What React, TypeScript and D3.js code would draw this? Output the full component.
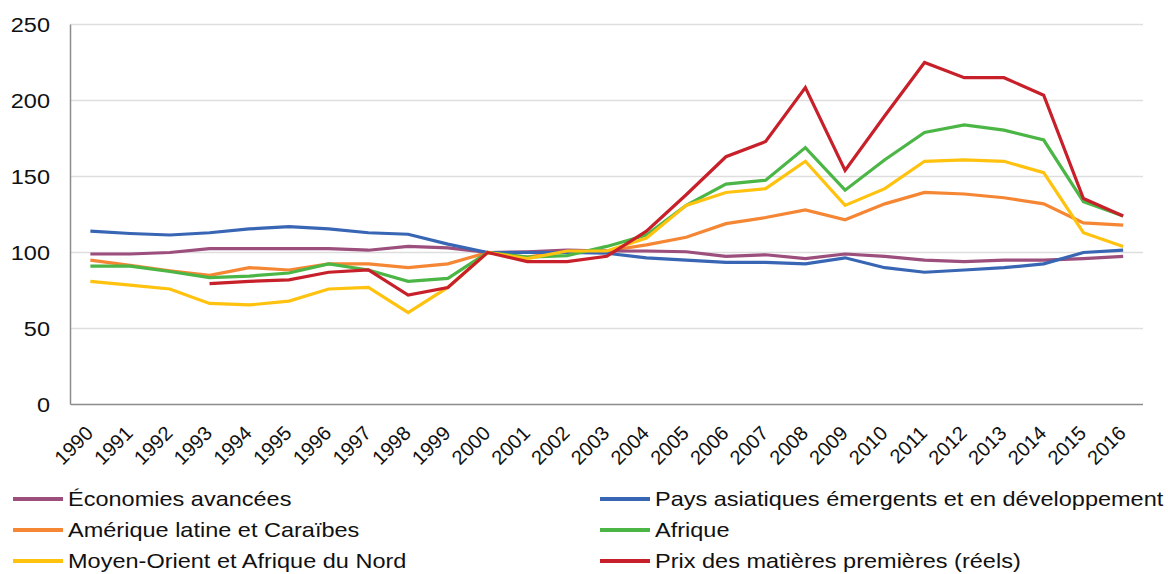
import React from 'react';
import * as d3 from 'd3';

const WIDTH = 1168;
const HEIGHT = 574;
const FONT = '"Liberation Sans", Arial, sans-serif';
// the reference text is a little wider than Liberation Sans
const STRETCH = 1.12;

const years = [
  '1990', '1991', '1992', '1993', '1994', '1995', '1996', '1997', '1998', '1999',
  '2000', '2001', '2002', '2003', '2004', '2005', '2006', '2007', '2008', '2009',
  '2010', '2011', '2012', '2013', '2014', '2015', '2016',
];
const yTicks = [0, 50, 100, 150, 200, 250];

const advanced = [99, 99, 100, 102.5, 102.5, 102.5, 102.5, 101.5, 104, 103, 100, 100.5, 101.5, 101, 101, 100.5, 97.5, 98.5, 96, 99, 97.5, 95, 94, 95, 95, 96, 97.5];
const asia = [114, 112.5, 111.5, 113, 115.5, 117, 115.5, 113, 112, 105.5, 100, 100, 100, 99.5, 96.5, 95, 93.5, 93.5, 92.5, 96.5, 90, 87, 88.5, 90, 92.5, 100, 101.5];
const latam = [95, 91.5, 88, 85, 90, 88.5, 92.5, 92.5, 90, 92.5, 100, 97, 101, 101, 105, 110, 119, 123, 128, 121.5, 132, 139.5, 138.5, 136, 132, 119.5, 118];
const africa = [91, 91, 87.5, 83.5, 84.5, 86.5, 92.5, 88.5, 81, 83, 100, 97, 98, 104, 111.5, 131, 145, 147.5, 169, 141, 161, 179, 184, 180.5, 174, 133.5, 124];
const mena = [81, 78.5, 76, 66.5, 65.5, 68, 76, 77, 60.5, 77, 100, 96, 101, 101, 109.5, 131, 139.5, 142, 160, 131, 142, 160, 161, 160, 152.5, 113, 104];
const commodity = [null, null, null, 79.5, 81, 82, 87, 88.5, 72, 77, 100, 94, 94, 97.5, 114, 138, 163, 173, 208.5, 154, 190, 225, 215, 215, 203.5, 135.5, 124];

const series = [
  { name: 'Économies avancées', color: '#9C4E7C', values: advanced },
  { name: 'Pays asiatiques émergents et en développement', color: '#3866B4', values: asia },
  { name: 'Amérique latine et Caraïbes', color: '#F58634', values: latam },
  { name: 'Afrique', color: '#4BB646', values: africa },
  { name: 'Moyen-Orient et Afrique du Nord', color: '#FFC20E', values: mena },
  { name: 'Prix des matières premières (réels)', color: '#C8202A', values: commodity },
];

// draw order: matches the overlap seen in the picture
const drawOrder = [2, 0, 1, 3, 4, 5];

const M = { l: 70.5, r: 25, t: 24.5, b: 169.5 };

const App = () => {
  const x = d3
    .scalePoint()
    .domain(years)
    .range([M.l, WIDTH - M.r])
    .padding(0.5);
  const y = d3
    .scaleLinear()
    .domain([0, 250])
    .range([HEIGHT - M.b, M.t]);

  const line = d3
    .line<number | null>()
    .defined((d) => d != null)
    .x((d, i) => x(years[i]) as number)
    .y((d) => y(d as number));

  const x0 = M.l;
  const x1 = WIDTH - M.r;

  return (
    <svg
      width={WIDTH}
      height={HEIGHT}
      style={{ position: 'absolute', left: 0, top: 0, background: '#fff' }}
      fontFamily={FONT}
    >
      {/* grid */}
      {yTicks.slice(1).map((t) => (
        <line key={t} x1={x0} x2={x1} y1={y(t)} y2={y(t)} stroke="#dedede" strokeWidth={1.5} />
      ))}
      <line x1={x0} x2={x0} y1={y(250)} y2={y(0)} stroke="#8c8c8c" strokeWidth={1.5} />
      <line x1={x0} x2={x1} y1={y(0)} y2={y(0)} stroke="#8c8c8c" strokeWidth={1.5} />

      {/* y labels */}
      {yTicks.map((t) => (
        <text
          key={t}
          transform={`translate(50,${y(t)}) scale(${STRETCH},1)`}
          dy="0.35em"
          textAnchor="end"
          fontSize={21}
          fill="#111"
        >
          {t}
        </text>
      ))}

      {/* x labels */}
      {years.map((yr) => (
        <text
          key={yr}
          transform={`translate(${(x(yr) as number) - 1},${y(0) + 25}) rotate(-45)`}
          textAnchor="end"
          dy="0.35em"
          fontSize={20}
          fill="#111"
        >
          {yr}
        </text>
      ))}

      {/* lines */}
      {drawOrder.map((k) => (
        <path
          key={series[k].name}
          d={line(series[k].values as (number | null)[]) || ''}
          fill="none"
          stroke={series[k].color}
          strokeWidth={3.2}
          strokeLinejoin="miter"
        />
      ))}

      {/* legend */}
      {series.map((s, i) => {
        const col = i % 2;
        const row = Math.floor(i / 2);
        const lx = col === 0 ? 13 : 600;
        const ly = 499 + row * 31;
        return (
          <g key={s.name} transform={`translate(${lx},${ly})`}>
            <line x1={0} x2={50} y1={0} y2={0} stroke={s.color} strokeWidth={4} />
            <text
              transform={`translate(55,0) scale(${STRETCH},1)`}
              dy="0.35em"
              fontSize={21}
              fill="#111"
            >
              {s.name}
            </text>
          </g>
        );
      })}
    </svg>
  );
};

export default App;
